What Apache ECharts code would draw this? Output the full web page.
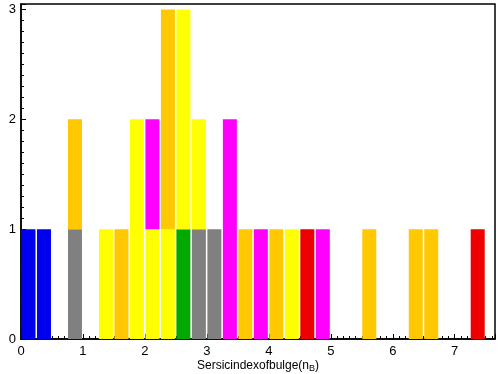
<!DOCTYPE html>
<html>
<head>
<meta charset="utf-8">
<script src="https://cdn.jsdelivr.net/npm/echarts@6/dist/echarts.min.js"></script>
<style>
  html, body { margin: 0; padding: 0; background: #fff; }
  #main { width: 500px; height: 374px; }
</style>
</head>
<body>
<div id="main"></div>
<script>
// bin edges (width 0.25), left edge of each bin
var binStarts = [0, 0.25, 0.5, 0.75, 1, 1.25, 1.5, 1.75, 2, 2.25, 2.5, 2.75, 3, 3.25, 3.5,
                 3.75, 4, 4.25, 4.5, 4.75, 5, 5.25, 5.5, 5.75, 6, 6.25, 6.5, 6.75, 7, 7.25];
var binWidth = 0.25;

// counts per colour group, stacked bottom -> top in this order
var blueCounts    = [1,1,0,0,0,0,0,0,0,0,0,0,0,0,0,0,0,0,0,0,0,0,0,0,0,0,0,0,0,0];
var grayCounts    = [0,0,0,1,0,0,0,0,0,0,0,1,1,0,0,0,0,0,0,0,0,0,0,0,0,0,0,0,0,0];
var greenCounts   = [0,0,0,0,0,0,0,0,0,0,1,0,0,0,0,0,0,0,0,0,0,0,0,0,0,0,0,0,0,0];
var yellowCounts  = [0,0,0,0,0,1,0,2,1,1,2,1,0,0,0,0,0,1,0,0,0,0,0,0,0,0,0,0,0,0];
var orangeCounts  = [0,0,0,1,0,0,1,0,0,2,0,0,0,0,1,0,1,0,0,0,0,0,1,0,0,1,1,0,0,0];
var magentaCounts = [0,0,0,0,0,0,0,0,1,0,0,0,0,2,0,1,0,0,0,1,0,0,0,0,0,0,0,0,0,0];
var redCounts     = [0,0,0,0,0,0,0,0,0,0,0,0,0,0,0,0,0,0,1,0,0,0,0,0,0,0,0,0,0,1];

var xTicks = [0, 1, 2, 3, 4, 5, 6, 7];
var yTicks = [0, 1, 2, 3];

var groups = [
  { name: 'blue',    counts: blueCounts,    color: '#0000f0' },
  { name: 'gray',    counts: grayCounts,    color: '#808080' },
  { name: 'green',   counts: greenCounts,   color: '#00a800' },
  { name: 'yellow',  counts: yellowCounts,  color: '#ffff00' },
  { name: 'orange',  counts: orangeCounts,  color: '#ffc800' },
  { name: 'magenta', counts: magentaCounts, color: '#ff00ff' },
  { name: 'red',     counts: redCounts,     color: '#ee0000' }
];

// build stacked rows [x0, x1, base, top]
var running = binStarts.map(function () { return 0; });
var series = groups.map(function (g) {
  var rows = [];
  g.counts.forEach(function (c, i) {
    if (c > 0) {
      rows.push([binStarts[i], binStarts[i] + binWidth, running[i], running[i] + c]);
      running[i] += c;
    }
  });
  return {
    name: g.name,
    type: 'custom',
    data: rows,
    renderItem: function (params, api) {
      var p0 = api.coord([api.value(0), api.value(3)]);
      var p1 = api.coord([api.value(1), api.value(2)]);
      return {
        type: 'rect',
        shape: { x: p0[0] + 0.5, y: p0[1], width: p1[0] - p0[0] - 1.5, height: p1[1] - p0[1] },
        style: { fill: g.color }
      };
    }
  };
});

var font = 'Liberation Sans';
var myChart = echarts.init(document.getElementById('main'));
myChart.setOption({
  animation: false,
  grid: {
    left: 21, right: 5, top: 4, bottom: 35,
    containLabel: false, outerBoundsMode: 'none',
    show: true, borderColor: '#000', borderWidth: 1.5, backgroundColor: 'transparent'
  },
  xAxis: {
    type: 'value',
    min: 0, max: 7.65, interval: 1,
    name: '{a|Sersicindexofbulge(n}{s|B}{a|)}',
    nameLocation: 'middle',
    nameGap: 20,
    nameMoveOverlap: false,
    nameTextStyle: {
      rich: {
        a: { fontFamily: font, fontSize: 12, color: '#000' },
        s: { fontFamily: font, fontSize: 9, color: '#000', padding: [5, 0, 0, 0] }
      }
    },
    axisLine: { show: true, onZero: false, lineStyle: { color: '#000', width: 1.5 } },
    axisTick: { show: true, inside: true, length: 5, lineStyle: { color: '#000' } },
    minorTick: { show: true, splitNumber: 10, length: 3, lineStyle: { color: '#000' } },
    axisLabel: {
      margin: 6, color: '#000', fontFamily: font, fontSize: 13,
      formatter: function (v) { return xTicks.indexOf(v) >= 0 ? String(v) : ''; }
    },
    splitLine: { show: false }
  },
  yAxis: {
    type: 'value',
    min: 0, max: 3.05, interval: 1,
    axisLine: { show: true, onZero: false, lineStyle: { color: '#000', width: 1.5 } },
    axisTick: { show: true, inside: true, length: 5, lineStyle: { color: '#000' } },
    minorTick: { show: true, splitNumber: 10, length: 3, lineStyle: { color: '#000' } },
    axisLabel: {
      margin: 5, color: '#000', fontFamily: font, fontSize: 13,
      formatter: function (v) { return yTicks.indexOf(v) >= 0 ? String(v) : ''; }
    },
    splitLine: { show: false }
  },
  series: series
});
</script>
</body>
</html>
